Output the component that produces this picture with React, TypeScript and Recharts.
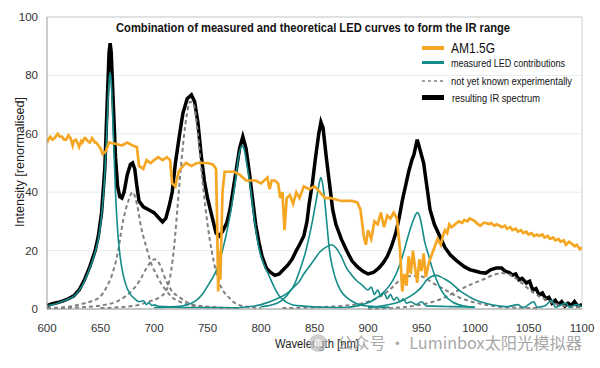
import { LineChart, Line, XAxis, YAxis, CartesianGrid, ReferenceLine } from 'recharts';

// AM1.5G reference spectrum (orange)
const am15gWl = [600, 602, 603, 605, 607, 609, 610, 612, 614, 616, 618, 620, 622, 624, 625, 627, 629, 630, 632, 633, 635, 636, 638, 640, 642, 643, 645, 646, 648, 650, 652, 655, 658, 665, 670, 675, 680, 684, 686, 690, 693, 697, 700, 704, 708, 712, 715, 717, 720, 723, 727, 730, 735, 740, 745, 750, 755, 758, 759, 760, 761, 762, 764, 766, 770, 775, 780, 783, 786, 790, 795, 800, 803, 806, 808, 810, 813, 816, 818, 820, 822, 824, 827, 830, 833, 836, 840, 845, 850, 855, 860, 865, 870, 875, 880, 885, 890, 893, 896, 898, 900, 903, 906, 909, 912, 915, 918, 921, 924, 927, 930, 932, 934, 936, 938, 940, 942, 944, 946, 948, 950, 952, 954, 957, 960, 963, 965, 968, 970, 972, 974, 976, 978, 980, 983, 985, 988, 990, 993, 995, 998, 1000, 1003, 1005, 1008, 1010, 1013, 1015, 1018, 1020, 1023, 1025, 1028, 1030, 1033, 1035, 1038, 1040, 1043, 1045, 1048, 1050, 1053, 1055, 1058, 1060, 1063, 1065, 1068, 1070, 1073, 1075, 1078, 1080, 1083, 1085, 1088, 1090, 1093, 1095, 1098, 1100];
const am15gVal = [57, 58.5, 59, 58, 58.5, 59.5, 60, 59, 59, 58, 58, 59.5, 58.5, 56, 57.5, 58, 56.5, 55.5, 57.5, 57, 58.5, 58.5, 57.5, 57, 58.5, 58, 57, 57, 56, 55, 53, 54, 57, 56.5, 56, 57, 56, 55.5, 49, 48, 51, 50, 51, 52, 51, 52, 51, 43, 42, 47, 49, 50, 49, 50, 50, 50, 49.5, 48, 30, 6, 20, 10, 40, 47, 47, 47, 46, 45, 44, 44, 44, 43, 44, 45, 41, 44, 44, 43, 38, 40, 27, 38, 39, 36, 40, 38, 42, 41, 42, 40, 38, 38, 37.5, 37, 37, 37, 36.5, 34, 25, 22, 27, 24, 30, 29, 33, 28, 32, 31, 33, 31, 20, 6, 12, 8, 18, 12, 20, 14, 9, 17, 13, 19, 11, 16, 19, 22, 24, 22, 25, 27, 26, 29, 28, 28.5, 29.5, 30, 29.5, 30.5, 30, 31, 30.5, 30, 29, 28.5, 29.5, 29.5, 29, 29.5, 28.5, 29, 28.5, 28, 28.5, 27.5, 28, 27, 27.5, 26.5, 27, 26, 26.5, 25.5, 26, 25, 25.5, 25, 25.5, 24.5, 25, 24, 24.5, 23.5, 24, 23, 23.5, 22, 23, 22.5, 21.5, 22, 20.5, 21, 20];

// resulting IR spectrum (black)
const resultWl = [600, 605, 610, 615, 620, 625, 630, 635, 640, 645, 648, 651, 654, 656, 658, 659, 660, 662, 664, 666, 668, 670, 672, 675, 678, 680, 682, 684, 686, 690, 695, 700, 705, 708, 711, 714, 717, 720, 724, 727, 731, 735, 738, 741, 744, 747, 750, 754, 758, 761, 764, 768, 771, 774, 777, 780, 783, 786, 789, 792, 795, 798, 801, 805, 809, 813, 817, 821, 825, 829, 833, 836, 840, 843, 845, 848, 851, 854, 856, 858, 861, 864, 867, 870, 875, 880, 885, 890, 895, 900, 905, 910, 914, 918, 922, 926, 929, 932, 935, 938, 941, 943, 946, 949, 952, 955, 958, 962, 967, 972, 977, 983, 990, 995, 1000, 1005, 1010, 1015, 1020, 1025, 1028, 1032, 1035, 1038, 1041, 1044, 1048, 1051, 1054, 1057, 1060, 1063, 1066, 1069, 1072, 1075, 1078, 1081, 1084, 1087, 1090, 1093, 1096, 1100];
const resultVal = [1.2, 1.8, 2.2, 2.8, 3.5, 4.5, 6.5, 10, 14.5, 20, 25, 33, 48, 68, 88, 91, 88, 70, 52, 42, 38.5, 38, 40, 46, 49.5, 50, 48, 42, 37, 35, 34, 33, 31, 29.8, 31, 35, 40, 50, 60, 67, 72, 73.3, 71, 64, 53, 44, 38, 32, 26, 25, 26.5, 29.5, 34, 41, 48, 55, 59, 55, 47, 38, 29, 23, 18, 14, 12.5, 11.5, 12, 13.5, 15, 17, 20, 22, 25, 30, 36, 43, 52, 60, 64, 62, 52, 43, 34, 29, 24, 20, 16.5, 14.5, 13, 12, 12.5, 14, 15.7, 18, 21.5, 26, 31, 37, 42, 47, 51, 53, 58, 54, 50, 42, 34, 29, 25, 21, 18.5, 16.5, 14.5, 13.5, 13, 12.5, 12.3, 13.5, 14, 14, 13, 12.5, 11.6, 12, 10, 10.5, 8.9, 9.5, 6.5, 7, 4.8, 5.5, 3.5, 4, 2, 3, 1.5, 2.5, 1, 2, 1.2, 2.5, 1, 1.5];

// measured LED contributions (teal)
const led660Wl = [600, 605, 610, 615, 620, 625, 630, 635, 640, 645, 648, 651, 654, 656, 658, 659, 660, 662, 664, 666, 668, 670, 672, 675, 678, 682, 686, 690, 693, 695, 698, 700, 705, 710, 720, 740, 760, 780];
const led660Val = [1, 1.5, 2, 2.7, 3.4, 4.4, 6.3, 9.5, 14, 19.5, 24, 32, 46, 62, 78, 81, 78, 60, 40, 27, 19, 14, 10.5, 7, 5, 3.5, 2.5, 2.8, 1.5, 2.2, 1.2, 1.4, 0.9, 0.8, 0.6, 0.5, 0.5, 0.4];
const led780Wl = [700, 720, 735, 745, 752, 758, 764, 770, 775, 779, 782, 784, 787, 790, 794, 798, 803, 808, 813, 817, 823, 830, 840, 860, 880];
const led780Val = [0.5, 0.8, 2, 5, 9, 13, 20, 30, 41, 52, 56, 55, 49, 42, 30, 21, 15, 11, 7, 4.5, 2.5, 1.4, 1, 0.6, 0.5];
const led855Wl = [800, 815, 825, 832, 836, 842, 848, 852, 855, 856, 858, 861, 864, 867, 870, 875, 880, 886, 892, 900, 920];
const led855Val = [0.8, 2, 5, 9, 13, 20, 30, 38, 44, 45, 42, 31.5, 20, 14, 10, 6, 4, 2.5, 1.5, 1, 0.6];
const led865Wl = [780, 800, 815, 825, 832, 836, 840, 845, 850, 855, 860, 866, 870, 875, 880, 885, 890, 895, 900, 903, 906, 909, 912, 915, 918, 921, 924, 927, 930, 933, 936, 940, 945, 950, 955, 960, 980, 1000];
const led865Val = [0.5, 1.5, 3.5, 5.5, 8, 9.5, 12, 14.5, 17, 19.5, 21, 22, 21, 18, 14, 11.5, 9.5, 8, 6.5, 7.5, 5, 6.5, 4.5, 5.5, 3.5, 5, 3, 4, 2.5, 3.5, 2, 2.5, 1.5, 2.5, 1, 1, 0.8, 0.6];
const led948Wl = [880, 895, 905, 914, 920, 925, 929, 933, 936, 940, 943, 946, 948, 950, 953, 957, 960, 964, 967, 972, 979, 990, 1000];
const led948Val = [0.5, 1.5, 3, 5.5, 8, 11, 14.5, 19, 23, 28, 31, 33, 32, 29, 23, 18, 14, 10, 7.5, 4.5, 2.4, 1, 0.6];
const led965Wl = [900, 915, 929, 940, 945, 950, 955, 960, 964, 968, 973, 979, 985, 991, 998, 1005, 1010, 1020, 1030, 1040, 1045, 1055, 1058, 1065, 1072, 1075, 1085, 1088, 1095, 1100];
const led965Val = [0.5, 1.2, 2.4, 4.5, 5.8, 7.5, 10, 11.2, 11.5, 11, 10, 8.5, 6.5, 5, 3.5, 2.5, 2, 1.2, 0.8, 1.5, 0.5, 2.5, 0.6, 1, 3, 0.6, 2, 0.6, 1.5, 0.8];

// not yet known experimentally (grey dashed)
const th680Wl = [600, 620, 630, 640, 649, 655, 661, 666, 671, 676, 680, 684, 688, 693, 698, 702, 707, 711, 717, 724, 735, 750, 770];
const th680Val = [0.3, 0.8, 1.5, 2.5, 4, 7, 12, 19, 30, 37, 40, 36, 28, 21, 15, 12, 8.5, 6.5, 4, 2.5, 1.2, 0.6, 0.3];
const th700Wl = [600, 640, 655, 665, 672, 680, 687, 693, 698, 701, 705, 711, 716, 724, 736, 750, 780];
const th700Val = [0.2, 0.8, 1.5, 2.5, 4, 6.5, 10, 14, 16.5, 17, 15.5, 10, 6.5, 4, 1.5, 0.8, 0.3];
const th735Wl = [650, 680, 695, 705, 711, 716, 719, 722, 726, 730, 734, 737, 741, 745, 748, 752, 756, 760, 765, 770, 774, 783, 800];
const th735Val = [0.3, 1, 2.5, 4, 6, 13, 22, 35, 52, 65, 71, 70, 60, 45, 35, 24, 16, 10, 6, 4, 2.5, 1, 0.4];
const th950Wl = [820, 850, 880, 895, 905, 911, 920, 927, 932, 940, 948, 955, 960, 970, 978, 985, 995, 1005, 1015, 1030, 1060];
const th950Val = [0.3, 0.6, 1.2, 2, 3.2, 4.2, 6.5, 9, 10.5, 11.3, 11.3, 10.3, 9, 7, 5.3, 4, 2.7, 1.8, 1.1, 0.6, 0.3];
const th1025Wl = [900, 929, 945, 960, 972, 985, 997, 1010, 1018, 1025, 1032, 1040, 1048, 1055, 1062, 1068, 1073, 1085, 1100];
const th1025Val = [0.1, 0.5, 1.2, 2.4, 4, 6.5, 8.5, 10.5, 11.8, 12.3, 11.8, 10, 7.5, 5.5, 4, 3, 2, 1, 0.6];

const xTicks = [600, 650, 700, 750, 800, 850, 900, 950, 1000, 1050, 1100];
const yTicks = [0, 20, 40, 60, 80, 100];

const ORANGE = '#F5A623';
const TEAL = '#148C89';
const GREY = '#808080';
const FONT = '"Liberation Sans", Arial, sans-serif';

const pts = (wl: number[], v: number[]) => wl.map((x, i) => ({ x, y: v[i] }));

const ledSeries = [
  pts(led660Wl, led660Val),
  pts(led780Wl, led780Val),
  pts(led855Wl, led855Val),
  pts(led865Wl, led865Val),
  pts(led948Wl, led948Val),
  pts(led965Wl, led965Val),
];
const theorySeries = [
  pts(th680Wl, th680Val),
  pts(th700Wl, th700Val),
  pts(th735Wl, th735Val),
  pts(th950Wl, th950Val),
  pts(th1025Wl, th1025Val),
];

export default function App() {
  const tick = { fontSize: 11.5, fill: '#333', fontFamily: FONT };
  return (
    <div style={{ position: 'absolute', left: 0, top: 0, width: 600, height: 368, background: '#fff' }}>
      <LineChart width={600} height={368} margin={{ top: 17, right: 18, bottom: 9, left: 0 }}>
        <CartesianGrid vertical={false} stroke="#e3ecec" />
        <XAxis
          type="number"
          dataKey="x"
          domain={[600, 1100]}
          ticks={xTicks}
          allowDataOverflow
          height={50}
          tick={tick}
          tickLine={false}
          tickMargin={9}
          axisLine={{ stroke: '#999' }}
        />
        <YAxis
          type="number"
          domain={[0, 100]}
          ticks={yTicks}
          width={47}
          tick={tick}
          tickLine={false}
          tickMargin={3}
          axisLine={{ stroke: '#999' }}
        />
        <ReferenceLine y={100} stroke="#cfcfcf" />
        <ReferenceLine x={1100} stroke="#cfcfcf" />
        <Line data={pts(resultWl, resultVal)} dataKey="y" type="linear" stroke="#000" strokeWidth={3.5} dot={false} isAnimationActive={false} />
        {theorySeries.map((d, i) => (
          <Line key={'t' + i} data={d} dataKey="y" type="monotone" stroke={GREY} strokeWidth={2} strokeDasharray="4 3" dot={false} isAnimationActive={false} />
        ))}
        {ledSeries.map((d, i) => (
          <Line key={'l' + i} data={d} dataKey="y" type="monotone" stroke={TEAL} strokeWidth={1.6} dot={false} isAnimationActive={false} />
        ))}
        <Line data={pts(am15gWl, am15gVal)} dataKey="y" type="linear" stroke={ORANGE} strokeWidth={2.7} dot={false} isAnimationActive={false} />
      </LineChart>
      <svg width={600} height={368} style={{ position: 'absolute', left: 0, top: 0, pointerEvents: 'none' }}>
        <text x={313} y={32} textAnchor="middle" fontFamily={FONT} fontWeight="bold" fontSize={12.5} fill="#111" textLength={394} lengthAdjust="spacingAndGlyphs">
          Combination of measured and theoretical LED curves to form the IR range
        </text>
        <text transform="translate(24,162) rotate(-90)" textAnchor="middle" fontFamily={FONT} fontSize={13} fill="#222" textLength={130} lengthAdjust="spacingAndGlyphs">
          Intensity [renormalised]
        </text>
        <text x={275} y={348} fontFamily={FONT} fontSize={12.5} fill="#222" textLength={84} lengthAdjust="spacingAndGlyphs">
          Wavelength [nm]
        </text>
        <line x1={422} x2={444} y1={48} y2={48} stroke={ORANGE} strokeWidth={4} />
        <text x={451} y={53} fontFamily={FONT} fontSize={14} fill="#111" textLength={44} lengthAdjust="spacingAndGlyphs">AM1.5G</text>
        <line x1={422} x2={444} y1={62.5} y2={62.5} stroke={TEAL} strokeWidth={3} />
        <text x={451} y={67} fontFamily={FONT} fontSize={11} fill="#111" textLength={114} lengthAdjust="spacingAndGlyphs">measured LED contributions</text>
        <line x1={422} x2={444} y1={81} y2={81} stroke={GREY} strokeWidth={1.5} strokeDasharray="3 3" />
        <text x={451} y={85} fontFamily={FONT} fontSize={11} fill="#111" textLength={121} lengthAdjust="spacingAndGlyphs">not yet known experimentally</text>
        <line x1={422} x2={444} y1={97.5} y2={97.5} stroke="#000" strokeWidth={5} />
        <text x={452} y={102} fontFamily={FONT} fontSize={11} fill="#111" textLength={88} lengthAdjust="spacingAndGlyphs">resulting IR spectrum</text>
        <circle cx={318} cy={343} r={9} fill="#bbb" opacity={0.7} />
        <circle cx={318} cy={343} r={4} fill="#fff" opacity={0.6} />
        <text x={337} y={349} fontFamily={'"Noto Sans CJK SC", "Noto Sans", sans-serif'} fontSize={16} fill="#999" opacity={0.85} textLength={245} lengthAdjust="spacingAndGlyphs">
          公众号 · Luminbox太阳光模拟器
        </text>
      </svg>
    </div>
  );
}
